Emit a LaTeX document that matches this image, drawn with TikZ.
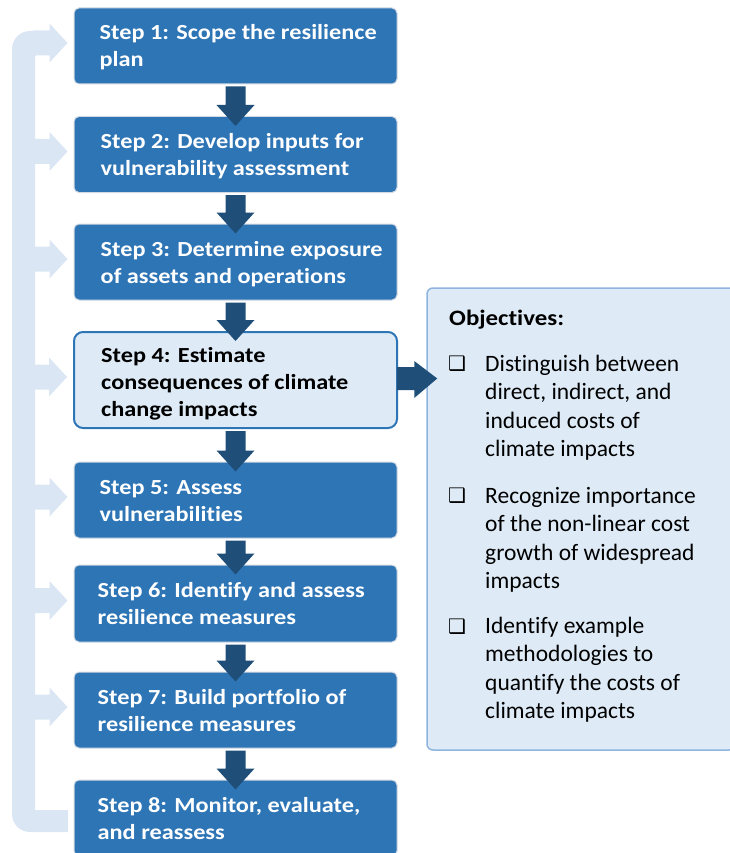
\documentclass[tikz,border=0pt]{standalone}
\usepackage{fontspec}
\setmainfont[Ligatures=NoCommon]{Carlito}
\newfontfamily\boldwide[FakeStretch=1.13,Ligatures=NoCommon]{Carlito}
\newfontfamily\symfont{DejaVu Sans}
\usetikzlibrary{calc}
\definecolor{stepblue}{HTML}{2E75B6}
\definecolor{darkblue}{HTML}{1F4E79}
\definecolor{paleblue}{HTML}{DEEBF7}
\definecolor{loopblue}{HTML}{DAE6F3}
\definecolor{objborder}{HTML}{8FB4DF}
\definecolor{stepedge}{HTML}{D3DAE3}
\newcommand\dnarrow[2]{\fill[darkblue] ([xshift=-10pt,yshift=-2pt]#1.south) -- ([xshift=10pt,yshift=-2pt]#1.south) -- ([xshift=10pt,yshift=11pt]#2.north) -- ([xshift=19pt,yshift=11pt]#2.north) -- ([yshift=-10pt]#2.north) -- ([xshift=-19pt,yshift=11pt]#2.north) -- ([xshift=-10pt,yshift=11pt]#2.north) -- cycle;}
\newcommand\sidearrow[1]{\fill[loopblue] ([xshift=-40pt,yshift=15.5pt]#1.west) -- ([xshift=-24pt,yshift=15.5pt]#1.west) -- ([xshift=-24pt,yshift=22.5pt]#1.west) -- ([xshift=-6pt,yshift=3pt]#1.west) -- ([xshift=-24pt,yshift=-16.5pt]#1.west) -- ([xshift=-24pt,yshift=-9.5pt]#1.west) -- ([xshift=-40pt,yshift=-9.5pt]#1.west) -- cycle;}
\begin{document}
\begin{tikzpicture}[x=1pt,y=-1pt,
  stepbox/.style={draw=stepedge, line width=1pt, fill=stepblue, rounded corners=5pt, minimum width=323pt, minimum height=76pt, inner sep=0pt},
  curbox/.style={draw=stepblue, line width=2pt, fill=paleblue, rounded corners=9pt, minimum width=323pt, minimum height=96pt, inner sep=0pt},
  steptext/.style={font=\boldwide\bfseries\fontsize{21.5}{27}\selectfont, text=white, align=left, inner sep=0pt, anchor=base west},
  objtext/.style={font=\fontsize{23.5}{28.5}\selectfont, text=black, align=left, inner sep=0pt, anchor=base west},
  bul/.style={font=\symfont\fontsize{20}{20}\selectfont, inner sep=0pt}]
\useasboundingbox (0,0) rectangle (729,853);
% objectives panel
\node[draw=objborder, line width=1.5pt, fill=paleblue, rounded corners=6pt, minimum width=308pt, minimum height=462pt, inner sep=0pt] (obj) at (581,519) {};
% step boxes
\node[stepbox] (s1) at (235.5,46) {};
\node[stepbox] (s2) at (235.5,154.5) {};
\node[stepbox] (s3) at (235.5,262) {};
\node[curbox]  (s4) at (235.5,380) {};
\node[stepbox] (s5) at (235.5,500) {};
\node[stepbox, minimum height=77pt] (s6) at (235.5,603.5) {};
\node[stepbox] (s7) at (235.5,710) {};
\node[stepbox] (s8) at (235.5,818) {};
% loop
\fill[loopblue] (36,31) -- (30,31) arc[start angle=90,end angle=180,radius=18pt] -- (12,814) arc[start angle=180,end angle=270,radius=18pt] -- (68,832) -- (68,810) -- (35,810) -- (35,56) -- (36,56) -- cycle;
\sidearrow{s1}\sidearrow{s2}\sidearrow{s3}\sidearrow{s4}\sidearrow{s5}\sidearrow{s6}\sidearrow{s7}
% texts
\node[steptext] (t1) at ([xshift=26pt,yshift=-21pt]s1.west) {Step 1: Scope the resilience\\plan};
\node[steptext] (t2) at ([xshift=27pt,yshift=-21pt]s2.west) {Step 2: Develop inputs for\\vulnerability assessment};
\node[steptext] (t3) at ([xshift=27pt,yshift=-21pt]s3.west) {Step 3: Determine exposure\\of assets and operations};
\node[steptext, text=black] (t4) at ([xshift=28pt,yshift=-36pt]s4.west) {Step 4: Estimate\\consequences of climate\\change impacts};
\node[steptext] (t5) at ([xshift=26pt,yshift=-21pt]s5.west) {Step 5: Assess\\vulnerabilities};
\node[steptext] (t6) at ([xshift=24pt,yshift=-21pt]s6.west) {Step 6: Identify and assess\\resilience measures};
\node[steptext] (t7) at ([xshift=24pt,yshift=-21pt]s7.west) {Step 7: Build portfolio of\\resilience measures};
\node[steptext] (t8) at ([xshift=24pt,yshift=-21pt]s8.west) {Step 8: Monitor, evaluate,\\and reassess};
% down arrows
\dnarrow{s1}{s2}\dnarrow{s2}{s3}\dnarrow{s3}{s4}\dnarrow{s4}{s5}\dnarrow{s5}{s6}\dnarrow{s6}{s7}\dnarrow{s7}{s8}
% right arrow
\fill[darkblue] ($(s4.east)+(-1,-13)$) -- ($(s4.east -| obj.west)+(-12,-13)$) -- ($(s4.east -| obj.west)+(-12,-19)$) -- ($(s4.east -| obj.west)+(11,-1.5)$) -- ($(s4.east -| obj.west)+(-12,18)$) -- ($(s4.east -| obj.west)+(-12,10)$) -- ($(s4.east)+(-1,10)$) -- cycle;
% objectives text
\node[objtext, font=\boldwide\bfseries\fontsize{22}{28.5}\selectfont] (ot) at (449,325) {Objectives:};
\node[bul] (b1) at (457,363.5) {❑};
\node[bul] (b2) at (457,495.5) {❑};
\node[bul] (b3) at (457,627) {❑};
\node[objtext] (o1) at (485,456.5) {Distinguish between\\direct, indirect, and\\induced costs of\\climate impacts};
\node[objtext] (o2) at (485,588.5) {Recognize importance\\of the non-linear cost\\growth of widespread\\impacts};
\node[objtext] (o3) at (485,718.5) {Identify example\\methodologies to\\quantify the costs of\\climate impacts};
\end{tikzpicture}
\end{document}
